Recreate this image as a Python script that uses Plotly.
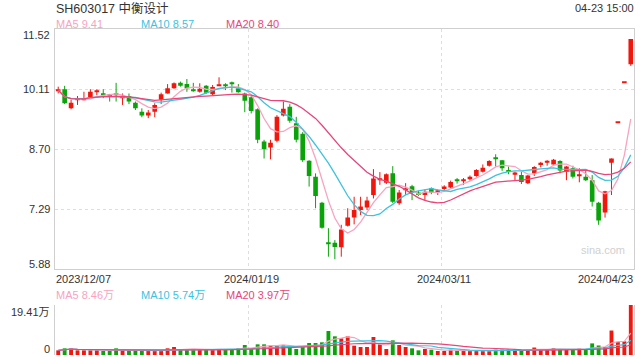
import plotly.graph_objects as go
import pandas as pd

# ---------------- data ----------------
stock_title = "SH603017 中衡设计"
last_time = "15:00"

dec_days = [7, 8, 11, 12, 13, 14, 15, 18, 19, 20, 21, 22, 25, 26, 27, 28, 29]
jan_days = [2, 3, 4, 5, 8, 9, 10, 11, 12, 15, 16, 17, 18, 19, 22, 23, 24, 25, 26, 29, 30, 31]
feb_days = [1, 2, 5, 6, 7, 8, 19, 20, 21, 22, 23, 26, 27, 28, 29]
mar_days = [1, 4, 5, 6, 7, 8, 11, 12, 13, 14, 15, 18, 19, 20, 21, 22, 25, 26, 27, 28, 29]
apr_days = [1, 2, 3, 8, 9, 10, 11, 12, 15, 16, 17, 18, 19, 22, 23]

dates = ([f"2023/12/{d:02d}" for d in dec_days] + [f"2024/01/{d:02d}" for d in jan_days]
         + [f"2024/02/{d:02d}" for d in feb_days] + [f"2024/03/{d:02d}" for d in mar_days]
         + [f"2024/04/{d:02d}" for d in apr_days])

opens = [10.07, 10.11, 9.66, 9.86, 9.86, 9.93, 10.04, 10.01, 9.99, 10.00,
         9.90, 9.95, 9.79, 9.58, 9.49, 9.58, 9.86, 10.01, 10.13, 10.26,
         10.23, 10.10, 10.05, 10.19, 9.99, 10.20, 10.20, 10.24, 10.13, 10.01,
         9.92, 9.64, 8.88, 8.74, 8.90, 9.49, 9.70, 9.31, 9.06, 8.43,
         8.05, 7.44, 6.50, 6.50, 6.39, 6.90, 7.09, 7.27, 7.33, 7.62,
         7.99, 7.91, 8.13, 7.43, 7.74, 7.83, 7.68, 7.62, 7.78, 7.69,
         7.76, 7.80, 7.98, 7.96, 7.99, 8.07, 8.17, 8.31, 8.49, 8.44,
         8.21, 8.10, 8.09, 7.90, 8.13, 8.33, 8.38, 8.34, 8.42, 8.17,
         8.25, 8.07, 8.05, 7.97, 7.44, 7.21, 8.38, 9.33, 10.26, 10.70]
highs = [10.17, 10.19, 9.86, 9.95, 10.05, 10.11, 10.11, 10.11, 10.00, 10.26,
         10.01, 10.01, 9.82, 9.66, 9.62, 9.78, 10.03, 10.23, 10.27, 10.29,
         10.35, 10.26, 10.25, 10.21, 10.21, 10.39, 10.25, 10.29, 10.23, 10.03,
         9.95, 9.66, 8.92, 8.92, 9.50, 9.82, 9.76, 9.46, 9.10, 8.44,
         8.13, 7.46, 6.84, 6.56, 6.92, 7.31, 7.58, 7.58, 7.58, 8.23,
         8.16, 8.13, 8.30, 7.74, 7.90, 7.86, 7.72, 7.75, 7.80, 7.75,
         7.85, 7.96, 8.02, 8.02, 8.08, 8.23, 8.34, 8.44, 8.58, 8.44,
         8.29, 8.17, 8.17, 8.09, 8.30, 8.40, 8.44, 8.47, 8.44, 8.30,
         8.31, 8.25, 8.21, 8.09, 7.46, 7.72, 8.48, 9.33, 10.26, 11.29]
lows = [10.01, 9.76, 9.64, 9.74, 9.85, 9.92, 9.97, 9.90, 9.82, 9.82,
        9.74, 9.76, 9.62, 9.45, 9.43, 9.45, 9.76, 10.01, 10.12, 10.17,
        10.05, 10.05, 10.03, 10.00, 9.97, 10.19, 10.09, 10.03, 10.03, 9.57,
        9.54, 8.84, 8.48, 8.46, 8.86, 9.47, 9.32, 8.86, 8.40, 7.82,
        7.31, 6.83, 6.17, 6.11, 6.17, 6.88, 6.93, 7.15, 7.27, 7.54,
        7.86, 7.88, 7.43, 7.39, 7.62, 7.50, 7.60, 7.50, 7.64, 7.62,
        7.73, 7.78, 7.89, 7.86, 7.96, 8.05, 8.15, 8.29, 8.29, 8.19,
        8.11, 7.97, 7.88, 7.88, 8.07, 8.27, 8.31, 8.32, 8.13, 7.97,
        8.01, 7.92, 7.95, 7.35, 6.92, 7.09, 7.62, 9.33, 10.26, 10.66]
closes = [10.09, 9.78, 9.79, 9.88, 9.88, 10.05, 10.05, 9.97, 9.95, 9.98,
          9.91, 9.82, 9.66, 9.49, 9.56, 9.74, 9.99, 10.13, 10.25, 10.19,
          10.13, 10.08, 10.12, 10.03, 10.16, 10.21, 10.19, 10.23, 10.04, 9.84,
          9.60, 8.92, 8.70, 8.85, 9.46, 9.65, 9.37, 8.92, 8.44, 8.07,
          7.60, 6.85, 6.48, 6.40, 6.81, 7.09, 7.27, 7.35, 7.49, 8.01,
          8.01, 8.11, 7.46, 7.68, 7.76, 7.68, 7.62, 7.70, 7.68, 7.71,
          7.82, 7.93, 7.96, 7.98, 8.05, 8.21, 8.26, 8.42, 8.47, 8.25,
          8.16, 8.15, 7.93, 8.08, 8.28, 8.38, 8.43, 8.45, 8.20, 8.29,
          8.05, 8.09, 7.97, 7.46, 7.02, 7.71, 8.48, 9.33, 10.26, 11.29]
volumes_wan = [1.81, 2.59, 2.59, 1.81, 1.81, 1.81, 1.81, 1.55, 1.55, 2.59,
               1.81, 1.81, 1.81, 1.81, 1.55, 1.55, 1.55, 2.59, 3.11, 2.07,
               2.07, 2.07, 2.33, 2.07, 2.07, 2.33, 2.07, 2.33, 2.59, 3.88,
               2.33, 4.14, 4.14, 3.62, 3.88, 3.88, 2.85, 2.33, 3.36, 4.66,
               4.66, 4.92, 9.32, 7.25, 6.47, 7.25, 3.62, 3.11, 3.11, 6.99,
               4.14, 2.33, 5.69, 3.88, 3.11, 2.59, 1.81, 2.33, 2.07, 1.55,
               1.55, 2.07, 1.55, 1.55, 1.55, 1.55, 1.55, 1.55, 2.07, 2.07,
               2.10, 2.10, 1.60, 2.10, 2.90, 2.10, 2.10, 2.65, 2.20, 2.20,
               2.20, 2.50, 2.20, 4.50, 3.70, 3.11, 9.50, 5.00, 5.30, 19.41]

price_ticks = [11.52, 10.11, 8.70, 7.29, 5.88]
label_dates = ["2023/12/07", "2024/01/19", "2024/03/11", "2024/04/23"]
ma_periods = [5, 10, 20]

# ---------------- styles ----------------
W, H = 640, 360
L_PX, R_PX = 55, 634
P_TOP, P_BOT = 29.3, 269
V_TOP, V_BOT = 305, 355
RED, GREEN = "#f2160d", "#0aa30a"
MA_COLORS = ["#f8a3bf", "#3cc3df", "#e9457a"]
GRID = "#dedede"
BORDER = "#cfcfcf"
TXT = "#333333"
FONT = "Liberation Sans, Arial, Noto Sans CJK SC, sans-serif"
GRID_SHIFT = -0.45


def X(px):
    return px / W


def Y(py):
    return 1 - py / H


n = len(dates)
idx = list(range(n))
df = pd.DataFrame({"o": opens, "h": highs, "l": lows, "c": closes, "v": volumes_wan})
up = df["c"] >= df["o"]
colors = [RED if u else GREEN for u in up]

fig = go.Figure()

# wicks
for is_up, col in [(True, RED), (False, GREEN)]:
    xs, ys = [], []
    for i in idx:
        if bool(up[i]) == is_up:
            xs += [i, i, None]
            ys += [lows[i], highs[i], None]
    fig.add_trace(go.Scatter(x=xs, y=ys, mode="lines", line=dict(color=col, width=1),
                             hoverinfo="skip", xaxis="x", yaxis="y"))

# bodies
body_base = [min(o, c) for o, c in zip(opens, closes)]
body_h = [max(abs(c - o), 0.022) for o, c in zip(opens, closes)]
fig.add_trace(go.Bar(x=idx, y=body_h, base=body_base, width=0.72, marker_color=colors,
                     marker_line_width=0, xaxis="x", yaxis="y", hoverinfo="skip"))

# price MAs
ma_vals = []
for p, col in zip(ma_periods, MA_COLORS):
    m = df["c"].rolling(p, min_periods=1).mean()
    ma_vals.append(m.iloc[-1])
    fig.add_trace(go.Scatter(x=idx, y=m, mode="lines", line=dict(color=col, width=1.3),
                             hoverinfo="skip", xaxis="x", yaxis="y"))

# volume
fig.add_trace(go.Bar(x=idx, y=volumes_wan, width=0.6, marker_color=colors,
                     marker_line_width=0, xaxis="x2", yaxis="y2", hoverinfo="skip"))
vma_vals = []
for p, col in zip(ma_periods, MA_COLORS):
    m = df["v"].rolling(p, min_periods=1).mean()
    vma_vals.append(m.iloc[-1])
    fig.add_trace(go.Scatter(x=idx, y=m, mode="lines", line=dict(color=col, width=1.2),
                             hoverinfo="skip", xaxis="x2", yaxis="y2"))

vmax = max(volumes_wan)
grid_idx = [dates.index(d) + GRID_SHIFT for d in label_dates[1:-1]]

ann = []
ann.append(dict(text=stock_title, x=X(L_PX), y=Y(8), xanchor="left", yanchor="middle",
                font=dict(size=12.5, color=TXT)))
ann.append(dict(text=dates[-1][5:].replace("/", "-") + " " + last_time, x=X(635), y=Y(7.5),
                xanchor="right", yanchor="middle", font=dict(size=11, color=TXT)))
leg_x = [55, 140, 225]
for p, col, v, lx in zip(ma_periods, MA_COLORS, ma_vals, leg_x):
    ann.append(dict(text=f"MA{p} {v:.2f}", x=X(lx), y=Y(24.5), xanchor="left", yanchor="middle",
                    font=dict(size=11, color=col)))
for p, col, v, lx in zip(ma_periods, MA_COLORS, vma_vals, leg_x):
    ann.append(dict(text=f"MA{p} {v:.2f}万", x=X(lx), y=Y(295), xanchor="left", yanchor="middle",
                    font=dict(size=11, color=col)))
for k, t in enumerate(price_ticks):
    shift = -5.5 if k == 0 else (5 if k == len(price_ticks) - 1 else 0)
    ann.append(dict(text=f"{t:.2f}", x=X(51), xref="paper", y=t, yref="y", xanchor="right",
                    yanchor="middle", yshift=shift, font=dict(size=11, color=TXT)))
ann.append(dict(text=f"{vmax:.2f}万", x=X(51), xref="paper", y=vmax, yref="y2", xanchor="right",
                yanchor="middle", yshift=-6.5, font=dict(size=11, color=TXT)))
ann.append(dict(text="0", x=X(51), xref="paper", y=0, yref="y2", xanchor="right",
                yanchor="middle", yshift=6.5, font=dict(size=11, color=TXT)))
for k, d in enumerate(label_dates):
    i = dates.index(d)
    if k == 0:
        xa, xv = "left", -0.5
    elif k == len(label_dates) - 1:
        xa, xv = "right", n - 0.5
    else:
        xa, xv = "center", i
    ann.append(dict(text=d, x=xv, xref="x", y=Y(278.5), yref="paper", xanchor=xa,
                    yanchor="middle", font=dict(size=11, color=TXT)))
ann.append(dict(text="sina.com", x=X(603), y=Y(250), xanchor="center", yanchor="middle",
                font=dict(size=11, color="#d0d0d0")))

for a in ann:
    a.setdefault("xref", "paper")
    a.setdefault("yref", "paper")
    a["showarrow"] = False
    a["borderpad"] = 0

axis_common = dict(showticklabels=False, ticks="", zeroline=False, showgrid=True,
                   gridcolor=GRID, griddash="dot", gridwidth=1)

fig.update_layout(
    width=W, height=H, margin=dict(l=0, r=0, t=0, b=0),
    paper_bgcolor="white", plot_bgcolor="white", showlegend=False,
    font=dict(family=FONT, color=TXT), barmode="overlay",
    xaxis=dict(domain=[X(L_PX), X(R_PX)], range=[-0.5, n - 0.5], tickvals=grid_idx,
               showline=True, mirror=True, linecolor=BORDER, anchor="y", **axis_common),
    yaxis=dict(domain=[Y(P_BOT), Y(P_TOP)], range=[price_ticks[-1], price_ticks[0]],
               tickvals=price_ticks[1:-1], showline=True, mirror=True, linecolor=BORDER,
               anchor="x", **axis_common),
    xaxis2=dict(domain=[X(L_PX), X(R_PX)], range=[-0.5, n - 0.5], tickvals=grid_idx,
                showline=False, anchor="y2", matches="x", **axis_common),
    yaxis2=dict(domain=[Y(V_BOT), Y(V_TOP)], range=[0, vmax], tickvals=[vmax],
                showline=True, mirror=True, linecolor=BORDER, anchor="x2", **axis_common),
    annotations=ann,
)

fig.write_html("out.html")
